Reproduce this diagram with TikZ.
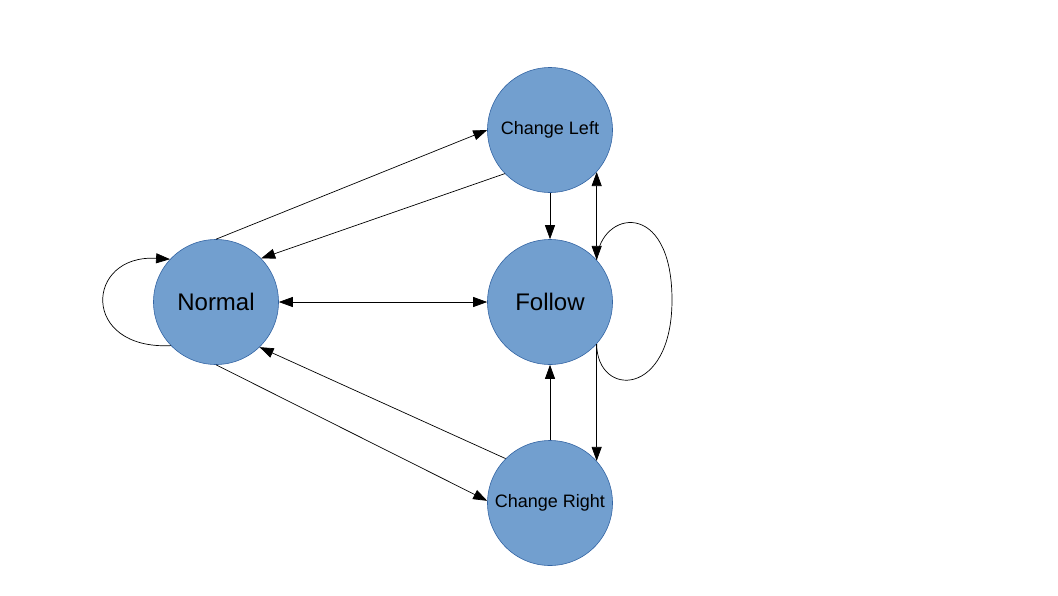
\documentclass[tikz,border=0pt]{standalone}
\usepackage{fontspec}
\setmainfont{Liberation Sans}
\usetikzlibrary{arrows.meta}
\definecolor{stateblue}{HTML}{729FCF}
\definecolor{stateline}{HTML}{3465A4}
\begin{document}
\begin{tikzpicture}[x=1pt, y=-1pt,
  state/.style={circle, fill=stateblue, draw=stateline, line width=0.6pt,
    minimum size=125pt, inner sep=0pt, font=\fontsize{24}{26}\selectfont},
  smallstate/.style={state, font=\fontsize{18}{20}\selectfont},
  link/.style={line width=0.7pt, -{Triangle[length=14pt,width=10pt]}},
  both/.style={line width=0.7pt, {Triangle[length=14pt,width=10pt]}-{Triangle[length=14pt,width=10pt]}}]

\useasboundingbox (0,0) rectangle (1058,595); %% page size

%% states
\node[state] (normal) at (216,302) {Normal};
\node[state] (follow) at (550,302) {Follow};
\node[smallstate] (left) at (550,130) {Change Left};
\node[smallstate] (right) at (550,503) {Change Right};

%% Normal <-> lane changes
\draw[link] (normal.north) -- (left.west);
\draw[link] (left.224) -- (normal.44);
\draw[link] (right.135) -- (normal.-46);
\draw[link] (normal.south) -- (right.178);

\draw[both] (normal.east) -- (follow.west);

%% Follow <-> lane changes
\draw[link] (left.south) -- (follow.north);
\draw[both] (left.-42) -- (follow.42);
\draw[link] (follow.-42) -- (right.42);
\draw[link] (right.north) -- (follow.south);

%% loops
\draw[link] (normal.224) .. controls (80,350) and (85,254) .. (normal.137);
\draw[line width=0.7pt] (follow.42) .. controls (600,210) and (672,198) .. (672,300)
  .. controls (672,398) and (597,398) .. (follow.-42);

\end{tikzpicture}
\end{document}
